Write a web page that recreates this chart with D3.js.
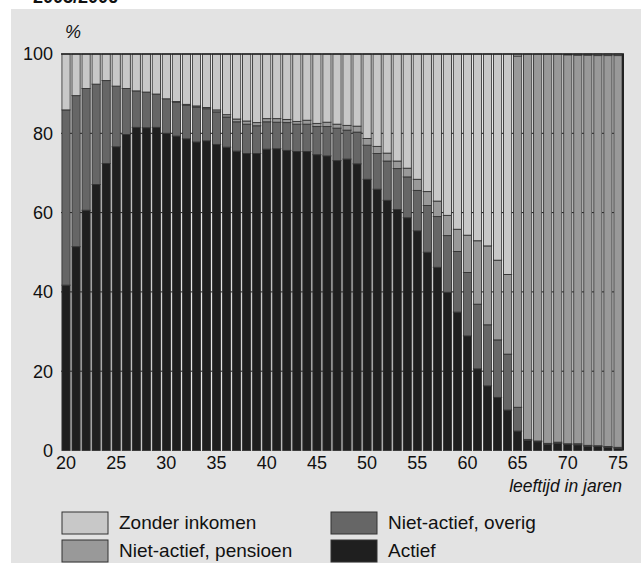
<!DOCTYPE html>
<html><head><meta charset="utf-8">
<script src="https://cdn.jsdelivr.net/npm/d3@7"></script>
<style>
html,body{margin:0;padding:0;background:#fff;}
svg text{font-family:"Liberation Sans",Arial,Helvetica,sans-serif;}
</style>
</head><body>
<svg id="chart" width="641" height="563"></svg>
<script>
const ages = d3.range(20, 76);
const actief = [41.7,51.4,60.6,67.1,72.4,76.6,79.7,81.5,81.4,81.5,80.0,79.3,78.6,77.8,78.1,77.2,76.5,75.5,74.9,74.9,76.0,76.1,75.7,75.4,75.4,74.6,74.3,73.1,73.5,72.3,68.4,65.9,63.1,60.8,58.7,55.4,50.0,46.2,39.9,34.9,28.9,20.6,16.3,13.4,10.2,4.9,2.5,2.2,1.6,1.8,1.5,1.4,1.1,1.0,0.8,0.6];
const overig = [44.2,38.1,30.7,25.3,20.9,15.3,11.6,9.2,9.0,8.4,8.7,8.6,8.5,8.8,8.1,8.2,7.6,7.4,7.4,7.0,6.9,6.7,7.0,6.9,6.9,7.1,7.4,8.2,7.3,8.0,8.6,9.0,9.9,10.3,10.3,10.2,11.8,12.8,14.3,15.3,16.0,16.3,15.4,14.5,14.1,6.0,0.3,0.2,0.2,0.3,0.2,0.3,0.2,0.2,0.2,0.2];
const pensioen = [0,0,0,0,0,0,0,0,0,0,0,0.1,0.2,0.3,0.3,0.5,0.6,0.7,0.8,0.8,0.8,0.9,0.8,0.7,1.0,0.8,1.1,1.0,1.2,1.5,1.7,1.8,2.0,1.9,2.2,2.8,3.5,3.9,5.1,5.6,9.4,16.0,19.9,20.1,20.1,88.6,97.2,97.6,98.2,97.9,98.1,98.0,98.4,98.4,98.6,98.8];
const zonder = [14.1,10.5,8.7,7.6,6.7,8.1,8.7,9.3,9.6,10.1,11.3,12.0,12.7,13.1,13.5,14.1,15.3,16.4,16.9,17.3,16.3,16.3,16.5,17.0,16.7,17.5,17.2,17.7,18.0,18.2,21.3,23.3,25.0,27.0,28.8,31.6,34.7,37.1,40.7,44.2,45.7,47.1,48.4,52.0,55.6,0.5,0,0,0,0,0.2,0.3,0.3,0.4,0.4,0.4];
const yTicks = [0,20,40,60,80,100];
const xTicks = [20,25,30,35,40,45,50,55,60,65,70,75];
const seriesNames = ["Actief","Niet-actief, overig","Niet-actief, pensioen","Zonder inkomen"];
const seriesKeys = ["actief","overig","pensioen","zonder"];
const colors = {actief:"#1f1f1f", overig:"#666666", pensioen:"#999999", zonder:"#c8c8c8"};
const titleText = "2005/2006";

const svg = d3.select("#chart");
svg.append("rect").attr("x",11).attr("y",9).attr("width",630).attr("height",554).attr("fill","#e3e3e3");
svg.append("text").attr("x",33).attr("y",3).attr("font-size",18).attr("font-weight","bold").attr("fill","#111").text(titleText);

const L=61, R=623, T=54, B=450.5;
const x = d3.scaleBand().domain(ages).range([L,R]).padding(0);
const y = d3.scaleLinear().domain([0,100]).range([B,T]);

svg.append("rect").attr("x",L).attr("y",T).attr("width",R-L).attr("height",B-T).attr("fill","#fff");
svg.append("g").selectAll("line").data(yTicks.filter(d=>d>0&&d<100)).join("line")
  .attr("x1",L).attr("x2",R).attr("y1",d=>y(d)).attr("y2",d=>y(d)).attr("stroke","#111").attr("stroke-width",1);

const table = ages.map((a,i)=>({age:a, actief:actief[i], overig:overig[i], pensioen:pensioen[i], zonder:zonder[i]}));
const stacked = d3.stack().keys(seriesKeys)(table);
const bw = x.bandwidth();
svg.append("g").selectAll("g").data(stacked).join("g").attr("fill",d=>colors[d.key])
  .selectAll("rect").data(d=>d.filter(p=>p[1]-p[0]>0)).join("rect")
  .attr("x",d=>x(d.data.age)+0.9).attr("width",bw-1.8)
  .attr("y",d=>y(d[1])).attr("height",d=>y(d[0])-y(d[1]))
  .attr("stroke","#333").attr("stroke-width",0.9);

// frame
svg.append("line").attr("x1",L).attr("x2",R+1).attr("y1",T).attr("y2",T).attr("stroke","#222").attr("stroke-width",1.5);
svg.append("line").attr("x1",R).attr("x2",R).attr("y1",T).attr("y2",B).attr("stroke","#222").attr("stroke-width",2);

// y labels
svg.append("g").selectAll("text").data(yTicks).join("text")
  .attr("x",53).attr("y",d=>y(d)).attr("dy","0.36em").attr("text-anchor","end")
  .attr("font-size",18).attr("fill","#111").text(d=>d);
svg.append("text").attr("x",65).attr("y",38).attr("font-size",18).attr("font-style","italic").attr("fill","#111").text("%");

// x labels
svg.append("g").selectAll("text").data(xTicks).join("text")
  .attr("x",d=>x(d)+bw/2).attr("y",469).attr("text-anchor","middle")
  .attr("font-size",18).attr("fill","#111").text(d=>d);
svg.append("text").attr("x",622).attr("y",492).attr("text-anchor","end").attr("font-size",17.5)
  .attr("font-style","italic").attr("fill","#111").text("leeftijd in jaren");

// legend
const legendItems = [
  {key:"zonder", col:0, row:0},
  {key:"pensioen", col:0, row:1},
  {key:"overig", col:1, row:0},
  {key:"actief", col:1, row:1}
];
const lg = svg.append("g");
legendItems.forEach(it=>{
  const lx = it.col===0 ? 62 : 331;
  const ly = it.row===0 ? 512 : 540;
  lg.append("rect").attr("x",lx).attr("y",ly).attr("width",46).attr("height",22)
    .attr("fill",colors[it.key]).attr("stroke","#333").attr("stroke-width",1);
  lg.append("text").attr("x",lx+57).attr("y",ly+17).attr("font-size",19).attr("fill","#111")
    .text(seriesNames[seriesKeys.indexOf(it.key)]);
});
</script>
</body></html>
